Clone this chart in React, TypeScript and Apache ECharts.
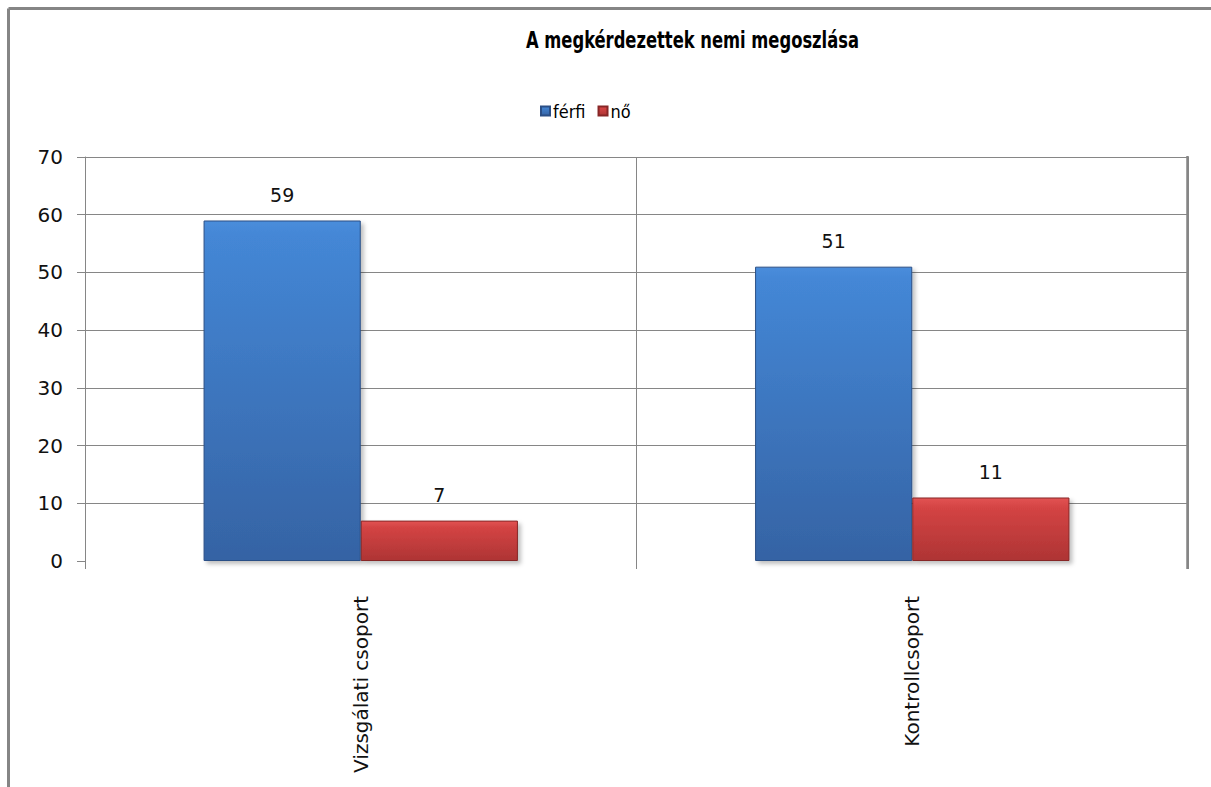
import React, { useEffect, useRef } from "react";
import * as echarts from "echarts";

const categories = ["Vizsgálati csoport", "Kontrollcsoport"];
const seriesNames = ["férfi", "nő"];
const ferfi = [59, 51];
const no = [7, 11];
const titleText = "A megkérdezettek nemi megoszlása";

const axisGray = "#868686";
const narrowFont = "'DejaVu Sans Condensed', 'DejaVu Sans', sans-serif";
const labelFont = "'DejaVu Sans', Verdana, sans-serif";

const blueFill = new echarts.graphic.LinearGradient(0, 0, 0, 1, [
  { offset: 0, color: "#4a8ddb" },
  { offset: 0.04, color: "#4487d6" },
  { offset: 1, color: "#3563a4" },
]);
const redFill = new echarts.graphic.LinearGradient(0, 0, 0, 1, [
  { offset: 0, color: "#e25454" },
  { offset: 0.15, color: "#d44444" },
  { offset: 1, color: "#ae3434" },
]);

export default function App() {
  const ref = useRef<HTMLDivElement>(null);
  useEffect(() => {
    if (!ref.current) return;
    const chart = echarts.init(ref.current, undefined, { renderer: "svg" });
    const barLabel = {
      show: true,
      position: "top" as const,
      distance: 16,
      color: "#111",
      fontFamily: labelFont,
      fontSize: 19,
    };
    const shadow = {
      shadowBlur: 4,
      shadowOffsetX: 3,
      shadowOffsetY: 3,
      shadowColor: "rgba(0,0,0,0.25)",
    };
    chart.setOption({
      animation: false,
      backgroundColor: "#ffffff",
      legend: {
        data: seriesNames,
        left: 535,
        top: 97,
        icon: "rect",
        itemWidth: 9,
        itemHeight: 9,
        itemGap: 12,
        textStyle: { fontFamily: narrowFont, fontSize: 18, color: "#000", padding: [0, 0, 0, -2] },
      },
      grid: { left: 85, right: 23, top: 157, bottom: 226, containLabel: false },
      xAxis: {
        type: "category",
        data: categories,
        axisLine: { show: false },
        axisTick: { show: true, length: 8, lineStyle: { color: axisGray } },
        splitLine: { show: true, lineStyle: { color: axisGray, width: 1 } },
        axisLabel: {
          rotate: 90,
          margin: 35,
          fontFamily: labelFont,
          fontSize: 20,
          color: "#111",
        },
      },
      yAxis: {
        type: "value",
        min: 0,
        max: 70,
        interval: 10,
        axisLine: { show: true, lineStyle: { color: axisGray, width: 1 } },
        axisTick: { show: true, length: 8, lineStyle: { color: axisGray } },
        splitLine: { show: true, showMinLine: false, lineStyle: { color: axisGray, width: 1 } },
        axisLabel: {
          margin: 22,
          fontFamily: labelFont,
          fontSize: 20,
          color: "#111",
        },
      },
      series: [
        {
          name: seriesNames[0],
          type: "bar",
          data: ferfi,
          barGap: "0%",
          barCategoryGap: "43%",
          itemStyle: { color: blueFill, borderColor: "#2b4f86", borderWidth: 1, ...shadow },
          label: barLabel,
        },
        {
          name: seriesNames[1],
          type: "bar",
          data: no,
          barGap: "0%",
          barCategoryGap: "43%",
          itemStyle: { color: redFill, borderColor: "#872626", borderWidth: 1, ...shadow },
          label: barLabel,
        },
      ],
      graphic: [
        {
          type: "text",
          x: 526,
          y: 29,
          scaleX: 0.79,
          style: {
            text: titleText,
            fontFamily: narrowFont,
            fontWeight: "bold",
            fontSize: 23,
            fill: "#000",
            textVerticalAlign: "top",
          },
        },
        { type: "line", shape: { x1: 8.5, y1: 8.5, x2: 1211, y2: 8.5 }, style: { stroke: "#858585", lineWidth: 3 } },
        { type: "line", shape: { x1: 8.5, y1: 8.5, x2: 8.5, y2: 787 }, style: { stroke: "#858585", lineWidth: 3 } },
        { type: "line", shape: { x1: 1187.5, y1: 156, x2: 1187.5, y2: 569 }, style: { stroke: "#858585", lineWidth: 2.5 } },
      ],
    });
    return () => chart.dispose();
  }, []);
  return (
    <div
      ref={ref}
      style={{ position: "absolute", left: 0, top: 0, width: 1211, height: 787 }}
    />
  );
}
